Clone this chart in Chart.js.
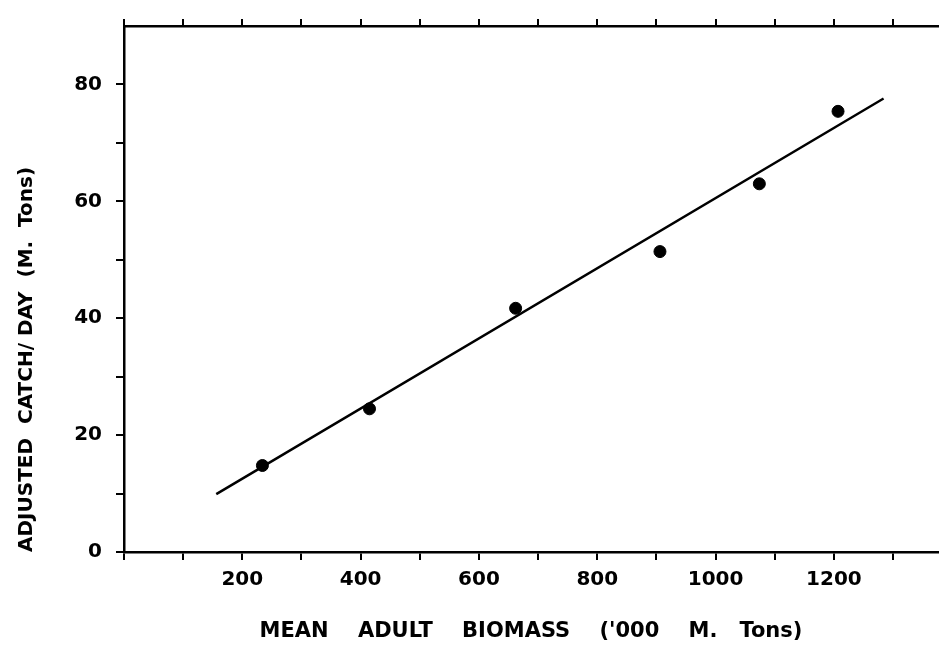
<!DOCTYPE html>
<html>
<head>
<meta charset="utf-8">
<script src="https://cdn.jsdelivr.net/npm/chart.js@4.4.1/dist/chart.umd.min.js"></script>
<style>
body{margin:0;background:#fff;}
</style>
</head>
<body>
<canvas id="mainChart" width="945" height="645"></canvas>
<script>
// ================= DATA =================
let biomass = [234, 415, 662, 906, 1074, 1207]
let catchDay = [14.8, 24.5, 41.7, 51.4, 63.0, 75.4]

// fitted line ends
let fitX = [156, 1284]
let fitY = [9.9, 77.6]

let xTicks = [0,100,200,300,400,500,600,700,800,900,1000,1100,1200,1300]
let xLabels = [200,400,600,800,1000,1200]
let yTicks = [0,10,20,30,40,50,60,70,80]
let yLabels = [0,20,40,60,80]

// ================= DRAW =================
let font = "'DejaVu Sans', sans-serif"

let ctx = document.getElementById("mainChart")

new Chart(ctx,{
type:"scatter",
data:{
datasets:[
{
label:"obs",
data:biomass.map((x,i)=>({x:x,y:catchDay[i]})),
backgroundColor:"#000",
borderColor:"#000",
pointRadius:6,
pointHoverRadius:6
},
{
label:"fit",
type:"line",
data:fitX.map((x,i)=>({x:x,y:fitY[i]})),
borderColor:"#000",
borderWidth:2.5,
pointRadius:0,
fill:false
}
]
},
options:{
responsive:false,
animation:false,
layout:{padding:{left:0,right:2,top:0,bottom:0}},
plugins:{legend:{display:false},tooltip:{enabled:false}},
scales:{
x:{
type:"linear",
position:"bottom",
min:0,
max:1376,
afterBuildTicks:s=>{ s.ticks = xTicks.map(v=>({value:v})) },
afterFit:s=>{ s.height = 93 },
border:{color:"#000",width:2.5},
grid:{drawOnChartArea:false,color:"#000",lineWidth:2,tickLength:8},
ticks:{
color:"#000",
padding:8,
maxRotation:0,
autoSkip:false,
font:{family:font,weight:"bold",size:20},
callback:v=> xLabels.includes(v) ? String(v) : ""
},
title:{
display:true,
text:"MEAN    ADULT    BIOMASS    ('000    M.   Tons)",
color:"#000",
font:{family:font,weight:"bold",size:21},
padding:{top:0,bottom:1}
}
},
x2:{
type:"linear",
position:"top",
min:0,
max:1376,
afterBuildTicks:s=>{ s.ticks = xTicks.map(v=>({value:v})) },
afterFit:s=>{ s.height = 23 },
border:{color:"#000",width:2.5},
grid:{drawOnChartArea:false,color:"#000",lineWidth:2,tickLength:7},
ticks:{display:false}
},
y:{
type:"linear",
position:"left",
min:0,
max:90,
afterBuildTicks:s=>{ s.ticks = yTicks.map(v=>({value:v})) },
afterFit:s=>{ s.width = 124 },
border:{color:"#000",width:2.5},
grid:{drawOnChartArea:false,color:"#000",lineWidth:2,tickLength:8},
ticks:{
color:"#000",
padding:14,
autoSkip:false,
font:{family:font,weight:"bold",size:20},
callback:v=> yLabels.includes(v) ? String(v) : ""
},
title:{
display:true,
text:"ADJUSTED  CATCH/ DAY  (M.  Tons)",
align:"start",
color:"#000",
font:{family:font,weight:"bold",size:20},
padding:{top:15,bottom:0}
}
}
}
}
})
</script>
</body>
</html>
